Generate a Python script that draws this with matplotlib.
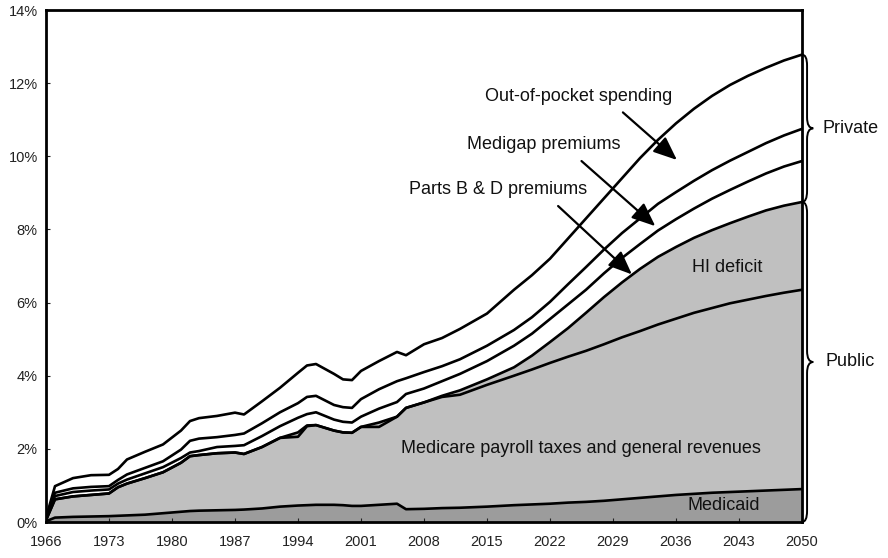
import numpy as np
import matplotlib
matplotlib.use("Agg")
import matplotlib.pyplot as plt
from matplotlib.path import Path
from matplotlib.patches import PathPatch

plt.rcParams['font.family'] = ['Liberation Sans', 'DejaVu Sans']

years = [1966, 1967, 1969, 1971, 1973, 1974, 1975, 1977, 1979, 1981,
         1982, 1983, 1985, 1987, 1988, 1990, 1992, 1994, 1995, 1996,
         1998, 1999, 2000, 2001, 2003, 2005, 2006, 2008, 2010, 2012,
         2015, 2018, 2020, 2022, 2024, 2026, 2028, 2030, 2032, 2034,
         2036, 2038, 2040, 2042, 2044, 2046, 2048, 2050]

# Shares of GDP (%) by component
medicaid = [0.02, 0.12, 0.14, 0.15, 0.16, 0.17, 0.18, 0.20, 0.24, 0.28,
            0.30, 0.31, 0.32, 0.33, 0.34, 0.37, 0.42, 0.45, 0.46, 0.47,
            0.47, 0.46, 0.44, 0.44, 0.47, 0.50, 0.35, 0.36, 0.38, 0.39,
            0.42, 0.46, 0.48, 0.50, 0.53, 0.55, 0.58, 0.62, 0.66, 0.70,
            0.74, 0.77, 0.80, 0.82, 0.84, 0.86, 0.88, 0.90]
payroll = [0.03, 0.50, 0.56, 0.59, 0.62, 0.78, 0.87, 1.00, 1.12, 1.34,
           1.50, 1.52, 1.56, 1.57, 1.52, 1.68, 1.88, 1.88, 2.16, 2.18,
           2.03, 1.99, 2.00, 2.16, 2.13, 2.38, 2.77, 2.91, 3.04, 3.09,
           3.33, 3.54, 3.69, 3.85, 3.99, 4.13, 4.28, 4.43, 4.56, 4.70,
           4.82, 4.95, 5.05, 5.16, 5.24, 5.32, 5.39, 5.45]
hi_deficit = [0, 0, 0, 0, 0, 0, 0, 0, 0, 0,
              0, 0, 0, 0, 0, 0, 0, 0.12, 0.02, 0,
              0, 0, 0, 0, 0.12, 0, 0, 0, 0.03, 0.12,
              0.15, 0.23, 0.38, 0.57, 0.78, 1.04, 1.29, 1.50, 1.70, 1.85,
              1.96, 2.05, 2.13, 2.19, 2.27, 2.34, 2.38, 2.40]
parts_bd = [0.02, 0.09, 0.12, 0.12, 0.11, 0.10, 0.11, 0.13, 0.14, 0.13,
            0.10, 0.11, 0.17, 0.18, 0.24, 0.30, 0.32, 0.40, 0.31, 0.35,
            0.30, 0.29, 0.28, 0.28, 0.38, 0.40, 0.38, 0.38, 0.40, 0.45,
            0.50, 0.59, 0.60, 0.63, 0.65, 0.63, 0.65, 0.67, 0.68, 0.72,
            0.76, 0.80, 0.86, 0.91, 0.96, 1.01, 1.07, 1.12]
medigap = [0.02, 0.09, 0.10, 0.10, 0.09, 0.10, 0.14, 0.15, 0.16, 0.23,
           0.32, 0.34, 0.27, 0.30, 0.32, 0.35, 0.38, 0.40, 0.47, 0.45,
           0.40, 0.40, 0.40, 0.48, 0.53, 0.57, 0.43, 0.45, 0.41, 0.40,
           0.42, 0.43, 0.45, 0.47, 0.55, 0.62, 0.65, 0.68, 0.70, 0.73,
           0.74, 0.76, 0.78, 0.80, 0.81, 0.83, 0.85, 0.88]
out_of_pocket = [0.03, 0.18, 0.28, 0.32, 0.31, 0.30, 0.41, 0.44, 0.46, 0.52,
                 0.54, 0.56, 0.58, 0.61, 0.52, 0.60, 0.67, 0.83, 0.86, 0.87,
                 0.85, 0.76, 0.76, 0.77, 0.77, 0.80, 0.63, 0.76, 0.77, 0.83,
                 0.88, 1.10, 1.15, 1.18, 1.25, 1.33, 1.40, 1.50, 1.65, 1.75,
                 1.88, 1.97, 2.03, 2.07, 2.08, 2.06, 2.05, 2.03]

xticks = list(range(1966, 2051, 7))
yticks = list(range(0, 15, 2))

layers = [medicaid, payroll, hi_deficit, parts_bd, medigap, out_of_pocket]
colors = ['#9c9c9c', '#c0c0c0', '#c0c0c0', 'white', 'white', 'white']

fig = plt.figure(figsize=(8.88, 5.58), dpi=100)
ax = fig.add_axes([46/888, 36/558, 756/888, 512/558])

yrs = np.array(years, dtype=float)
ax.stackplot(yrs, *[np.array(l) for l in layers], colors=colors, linewidth=0)
cum = np.cumsum(np.array(layers), axis=0)
for c in cum:
    ax.plot(yrs, c, color='black', lw=1.9, solid_joinstyle='round')

ax.set_xlim(1966, 2050)
ax.set_ylim(0, 14)
ax.set_xticks(xticks)
ax.set_yticks(yticks)
ax.set_yticklabels([f"{t}%" for t in yticks])
ax.tick_params(direction='in', length=3, width=0.8, labelsize=10.5, colors='#222222')
ax.tick_params(axis='x', pad=9)
ax.tick_params(axis='y', pad=6)
for s in ax.spines.values():
    s.set_linewidth(2)

tfs = 13
tc = '#111111'
ax.text(2025.2, 11.64, "Out-of-pocket spending", ha='center', va='center', fontsize=tfs, color=tc)
ax.text(2021.3, 10.33, "Medigap premiums", ha='center', va='center', fontsize=tfs, color=tc)
ax.text(2016.2, 9.09, "Parts B & D premiums", ha='center', va='center', fontsize=tfs, color=tc)
ax.text(2041.7, 6.96, "HI deficit", ha='center', va='center', fontsize=tfs, color=tc)
ax.text(2025.4, 2.01, "Medicare payroll taxes and general revenues", ha='center', va='center', fontsize=tfs, color=tc)
ax.text(2041.3, 0.45, "Medicaid", ha='center', va='center', fontsize=tfs, color=tc)

ap = dict(arrowstyle='-|>,head_length=1.2,head_width=0.5', color='black', lw=1.6,
          mutation_scale=12, shrinkA=0, shrinkB=0)
ax.annotate("", xy=(2036.1, 9.9), xytext=(2030.1, 11.2), arrowprops=ap)
ax.annotate("", xy=(2033.7, 8.09), xytext=(2025.5, 9.87), arrowprops=ap)
ax.annotate("", xy=(2031.1, 6.77), xytext=(2022.9, 8.64), arrowprops=ap)


def brace(ytop, ybot, x0=2050.0, w=1.25, d=0.3):
    xm = x0 + w * 0.45
    ymid = (ytop + ybot) / 2
    verts = [(x0, ytop), (xm, ytop), (xm, ytop - d),
             (xm, ymid + d),
             (xm, ymid), (x0 + w, ymid),
             (xm, ymid), (xm, ymid - d),
             (xm, ybot + d),
             (xm, ybot), (x0, ybot)]
    codes = [Path.MOVETO, Path.CURVE3, Path.CURVE3,
             Path.LINETO,
             Path.CURVE3, Path.CURVE3,
             Path.CURVE3, Path.CURVE3,
             Path.LINETO,
             Path.CURVE3, Path.CURVE3]
    p = PathPatch(Path(verts, codes), fill=False, lw=1.4, edgecolor='black', clip_on=False)
    ax.add_patch(p)
    return ymid


tot = cum[-1][-1]
pub = cum[2][-1]
ym1 = brace(tot, pub)
ym2 = brace(pub, 0.0)
ax.text(2052.3, ym1, "Private", ha='left', va='center', fontsize=tfs, color=tc, clip_on=False)
ax.text(2052.6, ym2, "Public", ha='left', va='center', fontsize=tfs, color=tc, clip_on=False)

fig.savefig("out.png", dpi=100)
